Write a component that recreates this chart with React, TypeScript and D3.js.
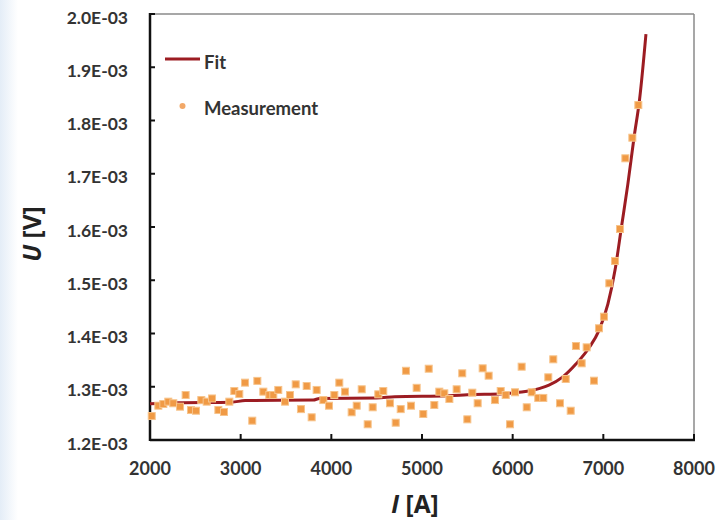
import React, { useEffect } from "react";
import * as d3 from "d3";

const measI = [2019, 2092, 2147, 2202, 2257, 2331, 2393, 2452, 2507, 2566, 2625, 2684, 2754, 2816, 2875, 2930, 2985, 3048, 3128, 3184, 3250, 3316, 3360, 3415, 3489, 3544, 3607, 3665, 3728, 3783, 3838, 3912, 3974, 4033, 4088, 4151, 4224, 4280, 4335, 4401, 4456, 4518, 4573, 4647, 4710, 4765, 4823, 4879, 4941, 5014, 5074, 5136, 5191, 5246, 5302, 5382, 5444, 5500, 5555, 5614, 5669, 5735, 5805, 5868, 5923, 5971, 6026, 6099, 6155, 6210, 6282, 6338, 6393, 6448, 6522, 6585, 6640, 6698, 6761, 6816, 6897, 6952, 7007, 7066, 7129, 7184, 7243, 7320, 7386];
const measU = [1.245, 1.2644, 1.2676, 1.272, 1.269, 1.2626, 1.2845, 1.2563, 1.255, 1.275, 1.272, 1.278, 1.2563, 1.2526, 1.272, 1.292, 1.2864, 1.3077, 1.2363, 1.311, 1.2908, 1.2845, 1.2845, 1.294, 1.272, 1.2845, 1.3045, 1.258, 1.3014, 1.2426, 1.294, 1.275, 1.2644, 1.2845, 1.3077, 1.2908, 1.252, 1.2644, 1.2952, 1.2295, 1.2614, 1.2858, 1.292, 1.269, 1.2325, 1.258, 1.33, 1.2644, 1.298, 1.2488, 1.3339, 1.2657, 1.2908, 1.2876, 1.277, 1.2952, 1.3252, 1.2388, 1.2889, 1.269, 1.3346, 1.3208, 1.275, 1.292, 1.2845, 1.2295, 1.2896, 1.3377, 1.2614, 1.2896, 1.279, 1.279, 1.3177, 1.3515, 1.269, 1.3146, 1.255, 1.3765, 1.344, 1.374, 1.3114, 1.4098, 1.4316, 1.4943, 1.5362, 1.5962, 1.729, 1.7677, 1.829].map((v) => v * 1e-3);

const fitI = [2000, 2300, 2900, 3050, 3800, 3870, 4500, 4700, 5300, 5500, 5900, 6100, 6300, 6400, 6550, 6700, 6850, 6950, 7050, 7130, 7200, 7270, 7340, 7400, 7470];
const fitU = [1.268, 1.27, 1.271, 1.274, 1.275, 1.278, 1.279, 1.281, 1.283, 1.285, 1.287, 1.29, 1.297, 1.303, 1.318, 1.343, 1.375, 1.405, 1.455, 1.52, 1.6, 1.68, 1.77, 1.84, 1.962].map((v) => v * 1e-3);

const xTicks = [2000, 3000, 4000, 5000, 6000, 7000, 8000];
const yTicks = [1.2e-3, 1.3e-3, 1.4e-3, 1.5e-3, 1.6e-3, 1.7e-3, 1.8e-3, 1.9e-3, 2.0e-3];
const yTickLabels = ["1.2E-03", "1.3E-03", "1.4E-03", "1.5E-03", "1.6E-03", "1.7E-03", "1.8E-03", "1.9E-03", "2.0E-03"];

const W = 719;
const H = 520;
const L = 150, R = 694, T = 14, B = 440;
const FONT = "Lato, 'Open Sans', sans-serif";
const TITLE_FONT = "'Open Sans', Lato, sans-serif";

export default function App() {
  useEffect(() => {
    document.body.style.margin = "0";
  }, []);
  const x = d3.scaleLinear().domain([2000, 8000]).range([L, R]);
  const y = d3.scaleLinear().domain([1.2e-3, 2.0e-3]).range([B, T]);
  const fitData = fitI.map((v, i) => [v, fitU[i]] as [number, number]);
  const line = d3.line<[number, number]>().x((d) => x(d[0])).y((d) => y(d[1])).curve(d3.curveMonotoneX);
  const sq = 7;
  return (
    <svg width={W} height={H} style={{ position: "absolute", left: 0, top: 0, display: "block" }} fontFamily={FONT}>
      <defs>
        <linearGradient id="bgl" x1="0" x2="1" y1="0" y2="0">
          <stop offset="0" stopColor="#e4edf7" />
          <stop offset="1" stopColor="#ffffff" />
        </linearGradient>
        <filter id="soft" x="-50%" y="-50%" width="200%" height="200%">
          <feGaussianBlur stdDeviation="0.5" />
        </filter>
      </defs>
      <rect x={0} y={0} width={W} height={H} fill="#ffffff" />
      <rect x={0} y={0} width={18} height={H} fill="url(#bgl)" />
      <line x1={L} x2={R} y1={T} y2={T} stroke="#8a8a8a" strokeWidth={1.5} />
      <line x1={R} x2={R} y1={T} y2={B} stroke="#8a8a8a" strokeWidth={1.5} />
      <line x1={L} x2={R + 1} y1={B} y2={B} stroke="#111" strokeWidth={2.5} />
      <line x1={L} x2={L} y1={T - 1} y2={B + 1} stroke="#111" strokeWidth={2.5} />
      {xTicks.map((t) => (
        <g key={t}>
          {t > 2000 && <line x1={x(t)} x2={x(t)} y1={B} y2={B - 6} stroke="#111" strokeWidth={2} />}
          <text x={x(t)} y={B + 35} textAnchor="middle" fontSize={18} fontWeight={700} fill="#333">{t}</text>
        </g>
      ))}
      {yTicks.map((t, i) => (
        <g key={i}>
          <line x1={L} x2={L + 5} y1={y(t)} y2={y(t)} stroke="#111" strokeWidth={2} />
          <text x={L - 22} y={y(t) + 9.5} textAnchor="end" fontSize={17.5} fontWeight={700} fill="#333">{yTickLabels[i]}</text>
        </g>
      ))}
      <path d={line(fitData) || ""} fill="none" stroke="#9c1c22" strokeWidth={3} strokeLinejoin="round" />
      <g filter="url(#soft)">
        {measI.map((v, i) => (
          <rect key={i} x={x(v) - sq / 2} y={y(measU[i]) - sq / 2} width={sq} height={sq} fill="#f09a44" stroke="#f7c48c" strokeWidth={1} />
        ))}
      </g>
      <line x1={165} x2={200} y1={59} y2={59} stroke="#9c1c22" strokeWidth={3} />
      <text x={204} y={68.5} fontSize={18.5} fontWeight={700} fill="#333">Fit</text>
      <circle cx={182.5} cy={106} r={3} fill="#f2a868" />
      <text x={204} y={114.5} fontSize={18.5} fontWeight={700} fill="#333">Measurement</text>
      <text transform={`translate(41,234) rotate(-90)`} textAnchor="middle" fontFamily={TITLE_FONT} fontSize={24.5} fontWeight={700} fill="#222">
        <tspan fontStyle="italic">U</tspan> [V]
      </text>
      <text x={415} y={513} textAnchor="middle" fontFamily={TITLE_FONT} fontSize={24.5} fontWeight={700} fill="#222">
        <tspan fontStyle="italic">I</tspan> [A]
      </text>
    </svg>
  );
}
